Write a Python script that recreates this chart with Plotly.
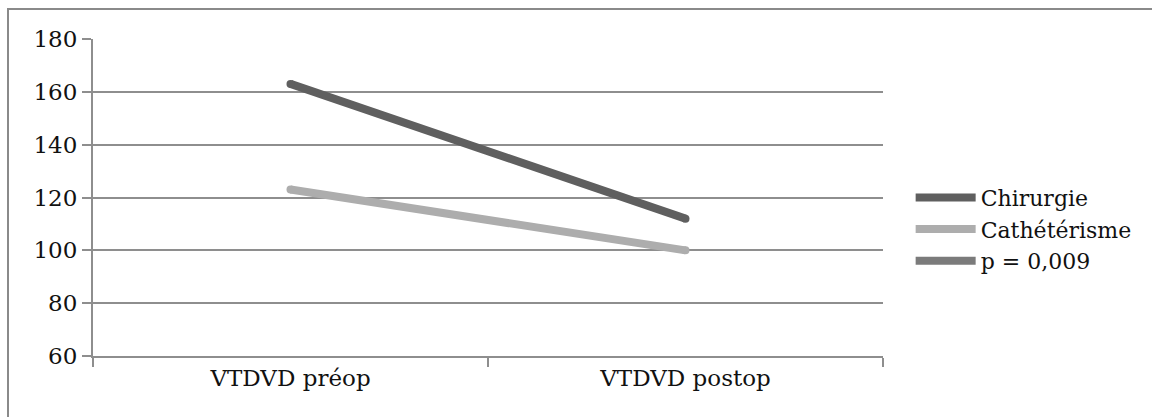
import plotly.graph_objects as go

categories = ["VTDVD préop", "VTDVD postop"]
chirurgie = [163, 112]
catheterisme = [123, 100]
p_label = "p = 0,009"

FONT = "DejaVu Serif"
GRID = "#8e8e8e"

fig = go.Figure()

series = [
    ("Chirurgie", chirurgie, "#5f5f5f"),
    ("Cathétérisme", catheterisme, "#adadad"),
]
for name, vals, col in series:
    fig.add_trace(go.Scatter(
        x=categories, y=vals, mode="lines", name=name,
        line=dict(color=col, width=8),
    ))
    # round end caps
    fig.add_trace(go.Scatter(
        x=categories, y=vals, mode="markers", showlegend=False,
        marker=dict(color=col, size=8, line=dict(width=0)),
        hoverinfo="skip",
    ))

# legend-only entry carrying the p-value
fig.add_trace(go.Scatter(
    x=[None], y=[None], mode="lines", name=p_label,
    line=dict(color="#7b7b7b", width=8),
))

fig.update_layout(
    width=1152, height=417,
    margin=dict(l=93, r=269, t=39, b=61),
    paper_bgcolor="white", plot_bgcolor="white",
    font=dict(family=FONT, size=23, color="#111111"),
    showlegend=True,
    legend=dict(
        x=1.035, y=0.40, xanchor="left", yanchor="middle",
        xref="paper", yref="paper",
        font=dict(family=FONT, size=22, color="#111111"),
        itemwidth=60, tracegroupgap=0,
        bgcolor="rgba(0,0,0,0)",
    ),
    xaxis=dict(
        type="category", range=[-0.5, 1.5],
        showgrid=False, showline=True, linecolor=GRID, linewidth=2,
        ticks="outside", tickson="boundaries", ticklen=9,
        tickcolor=GRID, tickwidth=2,
        tickfont=dict(family=FONT, size=23, color="#111111"),
    ),
    yaxis=dict(
        range=[60, 180], dtick=20, tick0=60,
        showgrid=True, gridcolor=GRID, gridwidth=2,
        showline=True, linecolor=GRID, linewidth=2,
        ticks="outside", ticklen=9, tickcolor=GRID, tickwidth=2,
        zeroline=False,
        tickfont=dict(family=FONT, size=23, color="#111111"),
    ),
    shapes=[dict(
        type="rect", xref="paper", yref="paper",
        x0=(8 - 93) / 790, x1=2.0, y0=-1.0, y1=1 + (39 - 9) / 317,
        line=dict(color="#8a8a8a", width=2), fillcolor="rgba(0,0,0,0)",
        layer="below",
    )],
)

fig.write_html("out.html")
